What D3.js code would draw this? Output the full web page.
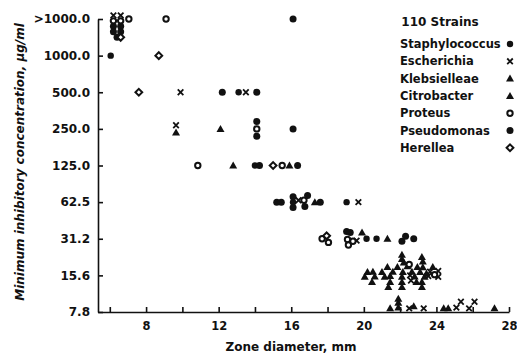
<html>
<head>
<script src="https://d3js.org/d3.v7.min.js"></script>
<style>
  body { margin: 0; background: #fff; }
  text { font-family: "DejaVu Sans", sans-serif; font-weight: bold; fill: #111; }
</style>
</head>
<body>
<script>
// MIC categories, bottom to top (level index = position)
const micLabels = ["7.8", "15.6", "31.2", "62.5", "125.0", "250.0", "500.0", "1000.0", ">1000.0"];
const xTicks = [6, 8, 10, 12, 14, 16, 18, 20, 22, 24, 26, 28];
const xLabelled = [8, 12, 16, 20, 24, 28];

// [zone diameter mm, MIC level]
const staphylococcus = [[6.05, 7], [13.1, 6], [14.0, 4], [16.1, 3.0], [19.05, 3], [20.15, 2.0], [20.7, 2.0]];
const escherichia = [[6.2, 8.1], [6.6, 8.1], [9.9, 6], [13.5, 6], [9.65, 5.1], [16.4, 3.05], [19.7, 3], [19.6, 1.95],
  [23.65, 1.1], [24.1, 1.12], [23.55, 0.98], [24.1, 0.96], [22.55, 1.0], [22.6, 0.86],
  [22.5, 0.1], [23.3, 0.1], [25.1, 0.12], [25.35, 0.28], [25.8, 0.1], [26.1, 0.28]];
const klebsielleae = [[9.65, 4.9], [12.8, 4], [17.3, 3], [21.3, 2.0],
  [22.1, 1.56], [22.1, 1.45], [23.2, 1.5], [21.3, 1.23], [22.4, 1.25], [22.95, 1.23], [23.8, 1.23],
  [20.2, 1.09], [21.0, 1.09], [21.6, 1.1], [22.65, 1.1], [23.1, 1.09], [23.45, 1.05],
  [20.05, 0.96], [21.15, 0.96], [21.45, 0.98], [22.1, 0.96], [23.35, 0.96],
  [20.45, 0.82], [22.1, 0.82], [22.9, 0.82], [21.35, 0.68], [22.1, 0.68], [23.2, 0.68],
  [21.45, 0.1], [21.9, 0.12], [21.9, 0.25], [21.9, 0.36], [22.75, 0.16], [24.65, 0.1], [27.2, 0.1]];
const citrobacter = [[12.1, 5], [15.9, 4], [19.9, 2.17], [22.2, 1.35], [23.25, 1.38], [21.85, 1.23], [23.25, 1.22],
  [20.5, 1.1], [22.15, 1.09], [20.6, 0.97], [22.8, 0.97], [21.45, 0.82], [23.2, 0.82], [24.4, 0.1]];
const proteus = [[6.2, 7.95], [6.6, 7.95], [7.05, 8], [9.1, 8], [14.1, 5.0], [10.85, 4], [15.5, 4], [16.7, 3.05],
  [17.7, 2.0], [18.05, 1.9], [19.1, 1.98], [19.15, 1.83], [19.4, 1.93], [22.5, 1.3], [23.9, 1.02]];
const pseudomonas = [[6.2, 7.8], [6.6, 7.8], [6.2, 7.65], [6.6, 7.65], [6.4, 7.5], [16.1, 8], [12.2, 6], [14.1, 6],
  [14.1, 5.2], [14.1, 4.8], [16.1, 5], [14.25, 4], [16.35, 4], [15.2, 3], [15.45, 3], [16.1, 3.15], [16.1, 2.85],
  [16.75, 2.88], [16.9, 3.18], [17.6, 3], [19.05, 2.2], [19.25, 2.17], [22.1, 1.93], [22.3, 2.07], [22.75, 2.0]];
const herellea = [[6.6, 7.5], [8.7, 7], [7.6, 6], [15.0, 4], [17.95, 2.08]];

const series = [
  { name: "Staphylococcus", shape: "dot", data: staphylococcus },
  { name: "Escherichia", shape: "cross", data: escherichia },
  { name: "Klebsielleae", shape: "tri", data: klebsielleae },
  { name: "Citrobacter", shape: "tri", data: citrobacter },
  { name: "Proteus", shape: "ring", data: proteus },
  { name: "Pseudomonas", shape: "dot2", data: pseudomonas },
  { name: "Herellea", shape: "diamond", data: herellea }
];

const w = 517, h = 356;
const svg = d3.select("body").append("svg").attr("width", w).attr("height", h);
svg.append("rect").attr("width", w).attr("height", h).attr("fill", "#fff");

const x = d3.scaleLinear().domain([5.35, 28]).range([98, 509]);
const y = d3.scaleLinear().domain([0, 8]).range([312, 19]);

// y axis
const yAxis = d3.axisLeft(y)
  .tickValues(d3.range(micLabels.length))
  .tickFormat(i => micLabels[i])
  .tickSizeInner(-5).tickSizeOuter(0).tickPadding(8);
const gy = svg.append("g").attr("transform", "translate(98,0)").call(yAxis);
gy.selectAll("text").style("font-size", "12px");

// x axis
const xAxis = d3.axisBottom(x)
  .tickValues(xTicks)
  .tickFormat(d => xLabelled.includes(d) ? d : "")
  .tickSizeInner(-5).tickSizeOuter(0).tickPadding(10);
const gx = svg.append("g").attr("transform", "translate(0,312)").call(xAxis);
gx.selectAll("text").style("font-size", "11.5px");

svg.selectAll(".domain, .tick line").attr("stroke", "#111").attr("stroke-width", 1.6);

svg.append("text").attr("x", 291).attr("y", 351).attr("text-anchor", "middle")
  .style("font-size", "12px").text("Zone diameter, mm");
svg.append("text").attr("transform", "translate(24,162) rotate(-90)").attr("text-anchor", "middle")
  .style("font-size", "12px").style("font-style", "italic")
  .text("Minimum  inhibitory  concentration,  μg/ml");

function drawMark(g, shape, cx, cy) {
  if (shape === "dot" || shape === "dot2") {
    g.append("circle").attr("cx", cx).attr("cy", cy).attr("r", shape === "dot" ? 3.2 : 3.5).attr("fill", "#111");
  } else if (shape === "ring") {
    g.append("circle").attr("cx", cx).attr("cy", cy).attr("r", 2.7)
      .attr("fill", "#fff").attr("stroke", "#111").attr("stroke-width", 2);
  } else if (shape === "tri") {
    g.append("path").attr("d", `M${cx},${cy - 4}L${cx + 4},${cy + 3}L${cx - 4},${cy + 3}Z`).attr("fill", "#111");
  } else if (shape === "cross") {
    g.append("path").attr("d", `M${cx - 2.8},${cy - 2.8}L${cx + 2.8},${cy + 2.8}M${cx + 2.8},${cy - 2.8}L${cx - 2.8},${cy + 2.8}`)
      .attr("stroke", "#111").attr("stroke-width", 1.8);
  } else if (shape === "diamond") {
    g.append("path").attr("d", `M${cx},${cy - 3.4}L${cx + 3.4},${cy}L${cx},${cy + 3.4}L${cx - 3.4},${cy}Z`)
      .attr("fill", "#fff").attr("stroke", "#111").attr("stroke-width", 2);
  }
}

const marks = svg.append("g");
series.forEach(s => {
  s.data.forEach(d => drawMark(marks, s.shape, x(d[0]), y(d[1])));
});

// legend
const lg = svg.append("g");
lg.append("text").attr("x", 440).attr("y", 26).attr("text-anchor", "middle")
  .style("font-size", "12px").text("110 Strains");
series.forEach((s, i) => {
  const yy = 44 + i * 17.3;
  lg.append("text").attr("x", 400).attr("y", yy + 4).style("font-size", "11.5px").text(s.name);
  drawMark(lg, s.shape, 510, yy);
});
</script>
</body>
</html>
